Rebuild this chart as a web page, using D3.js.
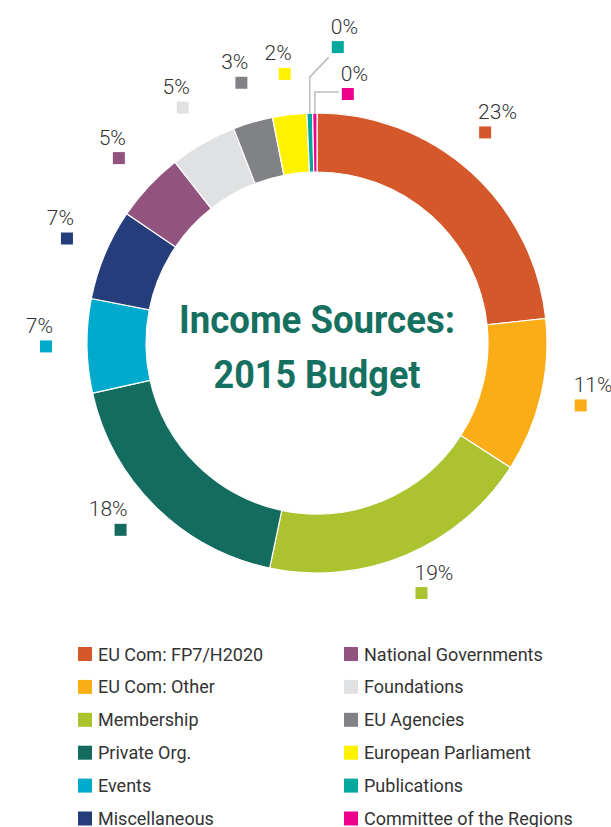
<!DOCTYPE html>
<html>
<head>
<meta charset="utf-8">
<script src="https://cdn.jsdelivr.net/npm/d3@7"></script>
<style>
  body { margin: 0; background: #fff; }
  svg { display: block; }
</style>
</head>
<body>
<svg id="chart"></svg>
<script>
// data (percent of total, clockwise from 12 o'clock)
const categories = ["EU Com: FP7/H2020", "EU Com: Other", "Membership", "Private Org.", "Events",
  "Miscellaneous", "National Governments", "Foundations", "EU Agencies", "European Parliament",
  "Publications", "Committee of the Regions"];
const values = [23.3, 10.8, 19.2, 18.2, 6.6, 6.4, 4.9, 4.7, 2.8, 2.4, 0.4, 0.3];
const percentLabels = ["23%", "11%", "19%", "18%", "7%", "7%", "5%", "5%", "3%", "2%", "0%", "0%"];
const colors = ["#d4582a", "#fbad18", "#acc22f", "#146c5f", "#00aacd", "#253d7b",
  "#93537f", "#e0e1e2", "#808285", "#fff200", "#00a89d", "#ec008c"];

const width = 611, height = 827;
const cx = 317, cy = 343;
const outerR = 230, innerR = 171, labelR = 271;
const sq = 12;

// tiny slices get a leader line instead of a radial label (offsets from the slice's outer edge)
const leaders = {
  "Publications": { path: [[0, -36], [19, -56]], box: [28, -66] },
  "Committee of the Regions": { path: [[0, -21], [24, -21]], box: [33, -19] }
};
// a couple of labels sit a bit off the slice middle in the original
const nudges = {
  "EU Com: FP7/H2020": [-13, -9],
  "Private Org.": [-6, -6]
};

const svg = d3.select("#chart")
  .attr("width", width)
  .attr("height", height);

const color = d3.scaleOrdinal().domain(categories).range(colors);

const pie = d3.pie().sort(null).value(d => d.value);
const arc = d3.arc().innerRadius(innerR).outerRadius(outerR);
const labelArc = d3.arc().innerRadius(labelR).outerRadius(labelR);
const edgeArc = d3.arc().innerRadius(outerR).outerRadius(outerR);

const data = categories.map((c, i) => ({ name: c, value: values[i], label: percentLabels[i] }));
const arcs = pie(data);

const g = svg.append("g").attr("transform", `translate(${cx},${cy})`);

// slices
g.selectAll("path.slice")
  .data(arcs)
  .enter()
  .append("path")
  .attr("class", "slice")
  .attr("d", arc)
  .attr("fill", d => color(d.data.name))
  .attr("stroke", "#fff")
  .style("stroke-width", "1.2px");

// percent labels
arcs.forEach(d => {
  const mid = (d.startAngle + d.endAngle) / 2;
  const lead = leaders[d.data.name];
  let bx, by, right;
  if (lead) {
    // point on the outer edge in the middle of the slice
    const [ex, ey] = edgeArc.centroid(d);
    const pts = [[ex, ey]].concat(lead.path.map(p => [ex + p[0], ey + p[1]]));
    g.append("path")
      .attr("d", d3.line()(pts))
      .attr("fill", "none")
      .attr("stroke", "#bdbdbd")
      .style("stroke-width", "1.5px");
    bx = ex + lead.box[0];
    by = ey + lead.box[1];
    right = true;
  } else {
    [bx, by] = labelArc.centroid(d);
    const n = nudges[d.data.name] || [0, 0];
    bx += n[0];
    by += n[1];
    right = mid < Math.PI;
  }
  g.append("rect")
    .attr("x", bx - sq / 2)
    .attr("y", by - sq / 2)
    .attr("width", sq)
    .attr("height", sq)
    .attr("fill", color(d.data.name));
  g.append("text")
    .attr("x", right ? bx - sq / 2 - 1 : bx + sq / 2 + 1)
    .attr("y", by - sq / 2 - 7.5)
    .attr("text-anchor", right ? "start" : "end")
    .style("font-family", "Roboto, 'Open Sans', sans-serif")
    .style("font-weight", 300)
    .style("font-size", "21px")
    .style("fill", "#333")
    .text(d.data.label);
});

// title in the hole
const title = g.append("text")
  .attr("text-anchor", "middle")
  .style("font-family", "Roboto, 'Open Sans', sans-serif")
  .style("font-weight", 700)
  .style("font-size", "38px")
  .style("fill", "#16705f");
title.append("tspan").attr("x", 0).attr("y", -10)
  .attr("textLength", 276).attr("lengthAdjust", "spacingAndGlyphs")
  .text("Income Sources:");
title.append("tspan").attr("x", 0).attr("y", 45)
  .attr("textLength", 207).attr("lengthAdjust", "spacingAndGlyphs")
  .text("2015 Budget");

// legend, two columns of six
const legend = svg.append("g").attr("transform", "translate(78,647)");
const rowH = 32.9, colW = 266;
const items = legend.selectAll("g")
  .data(categories)
  .enter()
  .append("g")
  .attr("transform", (d, i) => `translate(${Math.floor(i / 6) * colW},${(i % 6) * rowH})`);

items.append("rect")
  .attr("width", 14)
  .attr("height", 14)
  .attr("fill", d => color(d));

items.append("text")
  .attr("x", 20)
  .attr("y", 13.5)
  .style("font-family", "Roboto, 'Open Sans', sans-serif")
  .style("font-size", "18px")
  .style("fill", "#333")
  .text(d => d);
</script>
</body>
</html>
